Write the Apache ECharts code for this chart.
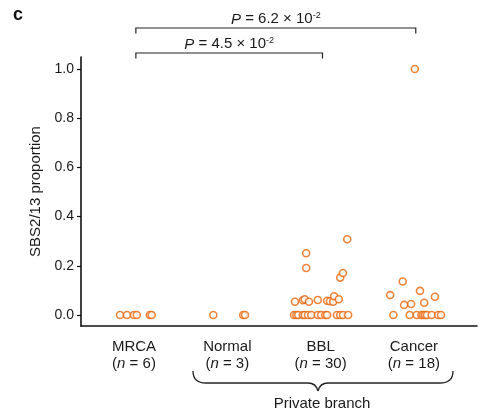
<!DOCTYPE html>
<html>
<head>
<meta charset="utf-8">
<script src="https://cdn.jsdelivr.net/npm/echarts@6/dist/echarts.min.js"></script>
<style>
html, body { margin: 0; padding: 0; background: #fff; }
#chart { width: 486px; height: 415px; }
</style>
</head>
<body>
<div id="chart"></div>
<script>
const categories = ['MRCA', 'Normal', 'BBL', 'Cancer'];
const counts = [6, 3, 30, 18];
const yTicks = [0, 0.2, 0.4, 0.6, 0.8, 1.0];

// SBS2/13 proportion per sample, and its horizontal jitter (category units)
const mrcaValues = [0, 0, 0, 0, 0, 0];
const mrcaJitter = [-0.15, -0.075, 0, 0.03, 0.17, 0.19];

const normalValues = [0, 0, 0];
const normalJitter = [-0.15, 0.17, 0.19];

const bblValues = [
	0, 0, 0, 0, 0, 0, 0, 0, 0, 0, 0, 0, 0, 0, 0,
	0.054, 0.06, 0.064, 0.054, 0.061, 0.058, 0.056, 0.054, 0.076, 0.064,
	0.251, 0.191, 0.152, 0.171, 0.308,
];
const bblJitter = [
	-0.285, -0.26, -0.24, -0.19, -0.17, -0.135, -0.1, -0.03, 0.005, 0.05, 0.07, 0.175, 0.21, 0.24, 0.295,
	-0.275, -0.19, -0.17, -0.125, -0.03, 0.07, 0.1, 0.135, 0.145, 0.195,
	-0.155, -0.155, 0.21, 0.24, 0.285,
];

const cancerValues = [
	0, 0, 0, 0, 0, 0, 0, 0, 0, 0,
	0.136, 0.081, 0.098, 0.074, 0.05, 0.041, 0.045,
	1.0,
];
const cancerJitter = [
	-0.22, -0.045, 0.03, 0.08, 0.1, 0.12, 0.14, 0.19, 0.26, 0.29,
	-0.12, -0.255, 0.065, 0.225, 0.11, -0.105, -0.03,
	0.01,
];

// comparisons shown with brackets above the plot
const pLabels = ['4.5', '6.2'];
const pFrom = [0, 0];
const pTo = [2, 3];

const groups = [
	[mrcaValues, mrcaJitter],
	[normalValues, normalJitter],
	[bblValues, bblJitter],
	[cancerValues, cancerJitter],
];

let points = [];
for (let [i, g] of groups.entries()) {
	for (let j = 0; j < g[0].length; j++) {
		points.push([i + g[1][j], g[0][j]]);
	}
}

const font = 'Liberation Sans, Arial, Helvetica, sans-serif';
const orange = '#E8650A';

let myChart = echarts.init(document.getElementById('chart'), null, { renderer: 'canvas' });

let option = {
	animation: false,
	textStyle: { fontFamily: font },
	grid: { left: 81, right: 9, top: 57, bottom: 89 },
	xAxis: {
		type: 'value',
		min: -0.568,
		max: 3.676,
		splitLine: { show: false },
		axisLine: { show: true, onZero: false, lineStyle: { color: '#111', width: 1.6 } },
		axisTick: { show: false },
		axisLabel: {
			customValues: [0, 1, 2, 3],
			margin: 12,
			color: '#1a1a1a',
			fontSize: 15,
			lineHeight: 17,
			formatter: (v) => {
				const i = Math.round(v);
				return categories[i] + '\n({it|n} = ' + counts[i] + ')';
			},
			rich: {
				it: { fontStyle: 'italic', fontSize: 15, color: '#1a1a1a', fontFamily: font },
			},
		},
	},
	yAxis: {
		type: 'value',
		min: -0.0447,
		max: 1.0488,
		name: 'SBS2/13 proportion',
		nameLocation: 'middle',
		nameGap: 36,
		nameTextStyle: { fontSize: 15, color: '#1a1a1a', fontFamily: font },
		splitLine: { show: false },
		axisLine: { show: true, onZero: false, lineStyle: { color: '#111', width: 1.6 } },
		axisTick: { show: true, length: 4, customValues: yTicks, lineStyle: { color: '#111', width: 1.2 } },
		axisLabel: {
			customValues: yTicks,
			margin: 7,
			color: '#1a1a1a',
			fontSize: 14,
			formatter: (v) => v.toFixed(1),
		},
	},
	series: [
		{
			type: 'scatter',
			data: points,
			symbol: 'circle',
			symbolSize: 7,
			itemStyle: { color: '#fff', borderColor: orange, borderWidth: 1.6 },
		},
	],
};

myChart.setOption(option);

// panel letter, brackets with P values, and brace for private branches
let graphics = [
	{
		type: 'text',
		x: 13,
		y: 15,
		style: { text: 'c', font: 'bold 18px ' + font, fill: '#111', verticalAlign: 'middle' },
	},
];

const bracketY = [53, 28];
for (let k = 0; k < pLabels.length; k++) {
	const x1 = myChart.convertToPixel({ xAxisIndex: 0 }, pFrom[k] + 0.02);
	const x2 = myChart.convertToPixel({ xAxisIndex: 0 }, pTo[k] + 0.02);
	const y = bracketY[k];
	graphics.push({
		type: 'polyline',
		shape: { points: [[x1, y + 5.5], [x1, y], [x2, y], [x2, y + 5.5]] },
		style: { stroke: '#222', lineWidth: 1.2, fill: null },
	});
	graphics.push({
		type: 'text',
		x: (x1 + x2) / 2,
		y: y - 9,
		style: {
			text: '{i|P} = ' + pLabels[k] + ' × 10{s|-2}',
			align: 'center',
			verticalAlign: 'middle',
			fill: '#1a1a1a',
			font: '15px ' + font,
			rich: {
				i: { fontStyle: 'italic', fontSize: 15, fontFamily: font, fill: '#1a1a1a', verticalAlign: 'bottom', lineHeight: 16 },
				s: { fontSize: 9, fontFamily: font, fill: '#1a1a1a', verticalAlign: 'top', lineHeight: 16, padding: [0, 0, 6, 0] },
			},
		},
	});
}

const braceStyle = { stroke: '#222', lineWidth: 1.3, fill: null };
graphics.push(
	{ type: 'bezierCurve', shape: { x1: 193, y1: 371, cpx1: 193, cpy1: 383, x2: 206, y2: 383 }, style: braceStyle },
	{ type: 'line', shape: { x1: 206, y1: 383, x2: 308, y2: 383 }, style: braceStyle },
	{ type: 'bezierCurve', shape: { x1: 308, y1: 383, cpx1: 316, cpy1: 383, x2: 318, y2: 391 }, style: braceStyle },
	{ type: 'bezierCurve', shape: { x1: 318, y1: 391, cpx1: 320, cpy1: 383, x2: 328, y2: 383 }, style: braceStyle },
	{ type: 'line', shape: { x1: 328, y1: 383, x2: 440, y2: 383 }, style: braceStyle },
	{ type: 'bezierCurve', shape: { x1: 440, y1: 383, cpx1: 453, cpy1: 383, x2: 453, y2: 371 }, style: braceStyle },
	{
		type: 'text',
		x: 322,
		y: 404,
		style: { text: 'Private branch', align: 'center', verticalAlign: 'middle', font: '15px ' + font, fill: '#1a1a1a' },
	}
);

myChart.setOption({ graphic: graphics });

window.addEventListener('resize', () => {
	myChart.resize();
});
</script>
</body>
</html>
